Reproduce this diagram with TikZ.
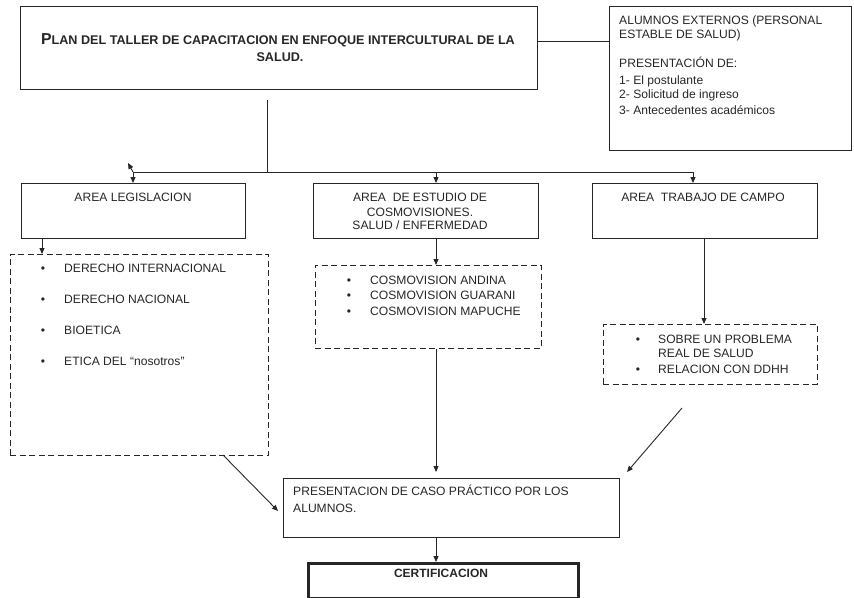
\documentclass[tikz,border=0pt]{standalone}
\usepackage{fontspec}
\setmainfont{Liberation Sans}
\usetikzlibrary{arrows.meta}
\begin{document}
\begin{tikzpicture}[x=1pt,y=-1pt,
  line/.style={draw=black!85, line width=0.9pt},
  arr/.style={line, -{Triangle[length=6pt,width=5pt]}},
  box/.style={line, anchor=north west, inner sep=0pt},
  dbox/.style={box, dash pattern=on 6pt off 3.5pt},
  txt/.style={inner sep=0pt, font=\fontsize{12.1pt}{14pt}\selectfont, text=black!85},
  ttl/.style={inner sep=0pt, anchor=base, text=black!85}]
\useasboundingbox (0,0) rectangle (854,597);
% boxes
\node[box, minimum width=517pt, minimum height=83pt] (top) at (20,6) {};
\node[box, minimum width=242pt, minimum height=144pt] (alum) at (609,6) {};
\node[box, minimum width=224pt, minimum height=55pt] (leg) at (21,183) {};
\node[box, minimum width=225pt, minimum height=55pt] (cos) at (313,183) {};
\node[box, minimum width=225pt, minimum height=55pt] (camp) at (592,183) {};
\node[dbox, minimum width=258pt, minimum height=201pt] (d1) at (10,254) {};
\node[dbox, minimum width=226pt, minimum height=83pt] (d2) at (315,265) {};
\node[dbox, minimum width=214pt, minimum height=60pt] (d3) at (603,324) {};
\node[box, minimum width=336pt, minimum height=59pt] (pres) at (283,478) {};
\node[box, line width=2.6pt, minimum width=270pt, minimum height=35pt] (cert) at (307,562) {};
% title
\node[ttl] (ti1) at (278,44) {\bfseries{\fontsize{15.8pt}{18pt}\selectfont P}{\fontsize{12.6pt}{15pt}\selectfont LAN DEL TALLER DE CAPACITACION EN ENFOQUE INTERCULTURAL DE LA}};
\node[ttl] (ti2) at (280,61) {\bfseries\fontsize{12.6pt}{15pt}\selectfont SALUD.};
% alumnos
\node[txt, anchor=base west] (a1) at (619,24) {ALUMNOS EXTERNOS (PERSONAL};
\node[txt, anchor=base west] (a2) at (619,38) {ESTABLE DE SALUD)};
\node[txt, anchor=base west] (a3) at (619,67) {PRESENTACIÓN DE:};
\node[txt, anchor=base west] (a4) at (619,84) {1- El postulante};
\node[txt, anchor=base west] (a5) at (619,98) {2- Solicitud de ingreso};
\node[txt, anchor=base west] (a6) at (619,114) {3- Antecedentes académicos};
% area texts
\node[txt, anchor=base] (l1) at (133,201) {AREA LEGISLACION};
\node[txt, anchor=base] (c1) at (420,201) {AREA\ \ DE ESTUDIO DE};
\node[txt, anchor=base] (c2) at (420,216) {COSMOVISIONES.};
\node[txt, anchor=base] (c3) at (420,229) {SALUD / ENFERMEDAD};
\node[txt, anchor=base] (k1) at (703,201) {AREA\ \ TRABAJO DE CAMPO};
% d1 bullets
\foreach \y/\t [count=\i] in {272/DERECHO INTERNACIONAL, 303/DERECHO NACIONAL, 334/BIOETICA, 365/ETICA DEL “nosotros”}{
  \node[txt, anchor=base] (b1\i) at (43,\y) {•};
  \node[txt, anchor=base west] (t1\i) at (64,\y) {\t};
}
% d2 bullets
\foreach \y/\t [count=\i] in {284/COSMOVISION ANDINA, 299/COSMOVISION GUARANI, 315/COSMOVISION MAPUCHE}{
  \node[txt, anchor=base] (b2\i) at (349,\y) {•};
  \node[txt, anchor=base west] (t2\i) at (370,\y) {\t};
}
% d3 bullets
\node[txt, anchor=base] (b31) at (638,343) {•};
\node[txt, anchor=base west] (t31) at (658,343) {SOBRE UN PROBLEMA};
\node[txt, anchor=base west] (t32) at (658,357) {REAL DE SALUD};
\node[txt, anchor=base] (b33) at (638,373) {•};
\node[txt, anchor=base west] (t33) at (658,373) {RELACION CON DDHH};
% presentacion
\node[txt, anchor=base west] (p1) at (293,495) {PRESENTACION DE CASO PRÁCTICO POR LOS};
\node[txt, anchor=base west] (p2) at (293,512) {ALUMNOS.};
\node[txt, anchor=base, font=\bfseries\fontsize{12pt}{14pt}\selectfont] (ce) at (441,577) {CERTIFICACION};
% coordinates
\coordinate (vt) at (267,100);
\coordinate (jn) at (267,172);
\coordinate (hl) at (133,172);
\coordinate (hm) at (436,172);
\coordinate (hr) at (693,172);
\coordinate (st) at (128,163);
\coordinate (d1o) at (223,455);
\coordinate (d1i) at (278,511);
\coordinate (d3o) at (682,408);
\coordinate (d3i) at (627,472);
% connectors
\draw[line] (top.east |- 0,41) -- (alum.west |- 0,41);
\draw[line] (vt) -- (jn);
\draw[line] (hl) -- (hr);
\draw[arr] (hl) -- (st);
\draw[arr] (hl) -- (hl |- leg.north);
\draw[arr] (hm) -- (hm |- cos.north);
\draw[arr] (hr) -- (hr |- camp.north);
\draw[arr] (leg.south -| 42,0) -- (d1.north -| 42,0);
\draw[arr] (cos.south -| hm) -- (d2.north -| hm);
\draw[arr] (camp.south -| 704,0) -- (d3.north -| 704,0);
\draw[arr, shorten >=6pt] (d2.south -| hm) -- (pres.north -| hm);
\draw[arr] (d1o) -- (d1i);
\draw[arr] (d3o) -- (d3i);
\draw[arr] (pres.south -| hm) -- (cert.north -| hm);
\end{tikzpicture}
\end{document}
